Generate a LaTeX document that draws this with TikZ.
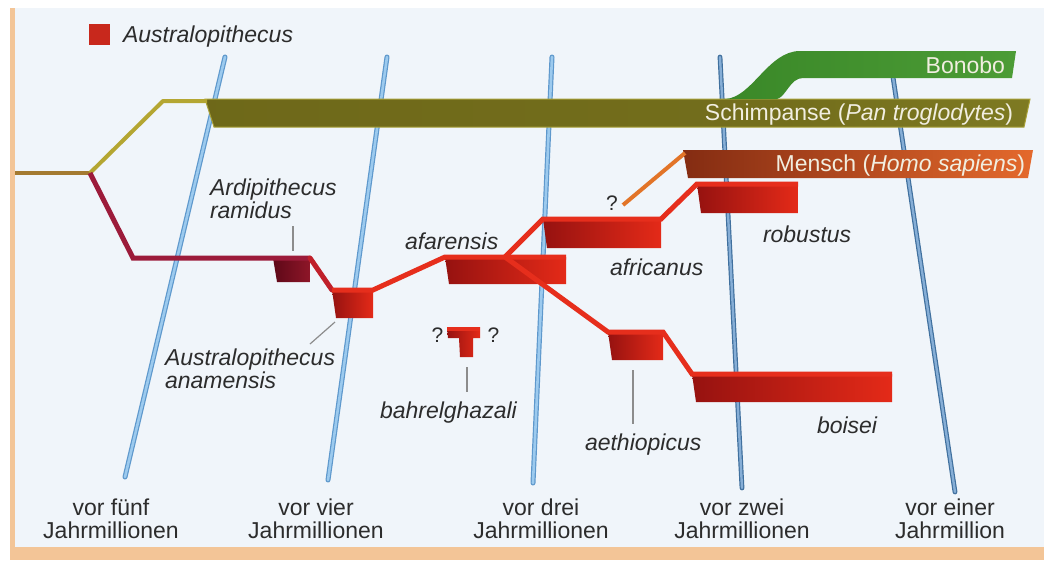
\documentclass[tikz,border=0pt]{standalone}
\usepackage{fontspec}
\setmainfont{Liberation Sans}
\definecolor{bg}{HTML}{F0F5FA}
\definecolor{border}{HTML}{F3C597}
\definecolor{txt}{HTML}{2C2C2C}
\definecolor{bartxt}{HTML}{F1EEE0}
\definecolor{leadc}{HTML}{8C8C8C}
\definecolor{blueA}{HTML}{9CCAEE}
\definecolor{blueAe}{HTML}{5E98CC}
\definecolor{blueB}{HTML}{86AED6}
\definecolor{blueBe}{HTML}{40709E}
\definecolor{rootc}{HTML}{A47A30}
\definecolor{olivec}{HTML}{B4A632}
\definecolor{schL}{HTML}{3E380A}
\definecolor{schM}{HTML}{6C6618}
\definecolor{schR}{HTML}{908E2C}
\definecolor{schE}{HTML}{A8A038}
\definecolor{bonL}{HTML}{3A8828}
\definecolor{bonR}{HTML}{4C9C36}
\definecolor{menL}{HTML}{842C12}
\definecolor{menR}{HTML}{E4692C}
\definecolor{homoc}{HTML}{E27428}
\definecolor{maroonc}{HTML}{9C1B3A}
\definecolor{ramL}{HTML}{5E0818}
\definecolor{ramR}{HTML}{8E1628}
\definecolor{redL}{HTML}{961210}
\definecolor{redR}{HTML}{E42A18}
\definecolor{redc}{HTML}{E62E1C}
\definecolor{midred}{HTML}{C0202A}
\definecolor{legred}{HTML}{C8281C}
\pgfdeclarehorizontalshading{schshade}{100bp}{color(0bp)=(schL); color(10bp)=(schM); color(60bp)=(schM!80!schR); color(100bp)=(schR)}
\newcommand\hmblock[6]{%
  \shade[left color=#6L, right color=#6R] (#2,#4) -- (#3,#4) -- (#3,#5) -- (#2+4,#5) -- cycle;
  \coordinate (#1-nw) at (#2,#4);
  \coordinate (#1-ne) at (#3,#4);}
\begin{document}
\begin{tikzpicture}[x=1pt,y=-1pt,
  every node/.style={inner sep=0pt, outer sep=0pt, text=txt, font=\fontsize{23}{24}\selectfont},
  spec/.style={font=\fontsize{23}{24}\selectfont\itshape},
  barlbl/.style={text=bartxt},
  qm/.style={font=\fontsize{21}{22}\selectfont},
  timeA/.style={draw=blueAe, line width=1.2pt, double=blueA, double distance=2.6pt, line cap=round},
  timeB/.style={draw=blueBe, line width=1.2pt, double=blueB, double distance=2.4pt, line cap=round},
  rootline/.style={draw=rootc, line width=4pt},
  oliveline/.style={draw=olivec, line width=4pt},
  homoline/.style={draw=homoc, line width=4pt},
  maroonline/.style={draw=maroonc, line width=5pt},
  redline/.style={draw=redc, line width=5pt},
  leader/.style={draw=leadc, line width=1.2pt}
]
\useasboundingbox (0,0) rectangle (1044,560);
% background
\fill[white] (0,0) rectangle (1044,560);
\fill[bg] (15,8) rectangle (1044,547);
\fill[border] (10,8) rectangle (15,560);
\fill[border] (10,547) rectangle (1044,560);

% time lines
\coordinate (t1a) at (225,57); \coordinate (t1b) at (125,477);
\coordinate (t2a) at (387,57); \coordinate (t2b) at (328,480);
\coordinate (t3a) at (552,57); \coordinate (t3b) at (533,483);
\coordinate (t4a) at (720,57); \coordinate (t4b) at (742,488);
\coordinate (t5a) at (890,57); \coordinate (t5b) at (955,492);
\draw[timeA] (t1a) -- (t1b);
\draw[timeA] (t2a) -- (t2b);
\draw[timeA] (t3a) -- (t3b);
\draw[timeB] (t4a) -- (t4b);
\draw[timeB] (t5a) -- (t5b);

% Pan branch
\coordinate (root) at (15,173);
\coordinate (split) at (90,173);
\coordinate (pbend) at (163,101);
\coordinate (sch-nw) at (207,101);
\draw[rootline] (root) -- (split);
\shade[shading=schshade, draw=schE, line width=1pt]
  (205,99) -- (1030,99) -- (1024,127) -- (214,127) -- cycle;
\draw[oliveline, line join=round] (split) -- (pbend) -- (sch-nw);
\node[barlbl, anchor=base east] (sch) at (1013,120) {Schimpanse (\textit{Pan troglodytes})};

% Bonobo
\shade[left color=bonL, right color=bonR]
  (725,99) .. controls (752,98) and (768,51) .. (800,51) -- (1016,51) -- (1012,78)
  -- (803,78) .. controls (790,78) and (786,97) .. (777,99) -- cycle;
\node[barlbl, anchor=base east] (bon) at (1005,73) {Bonobo};

% Mensch
\shade[left color=menL, right color=menR]
  (683,150) -- (1033,150) -- (1028,178) -- (688,178) -- cycle;
\coordinate (men-nw) at (685,153);
\coordinate (mq) at (623,205);
\draw[homoline] (mq) -- (men-nw);
\node[barlbl, anchor=base east] (men) at (1025,171) {Mensch (\textit{Homo sapiens})};

% hominin blocks
\coordinate (rbend) at (133,258);
\hmblock{ram}{273}{310}{258}{282}{ram}
\hmblock{ana}{332}{373}{290}{318}{red}
\hmblock{afa}{445}{566}{257}{284}{red}
\hmblock{afr}{543}{661}{219}{248}{red}
\hmblock{rob}{697}{798}{184}{213}{red}
\hmblock{aet}{608}{663}{332}{360}{red}
\hmblock{boi}{692}{892}{374}{402}{red}
\coordinate (afa-fork) at (505,257);

\draw[maroonline] (split) -- (rbend) -- (ram-nw) -- (ram-ne);
\draw[redline, draw=midred, line cap=round] (ram-ne) -- (ana-nw);
\draw[redline] (ana-nw) -- (ana-ne) -- (afa-nw) -- (afa-ne);
\draw[redline] (afa-fork) -- (afr-nw) -- (afr-ne) -- (rob-nw) -- (rob-ne);
\draw[redline] (afa-fork) -- (aet-nw) -- (aet-ne) -- (boi-nw) -- (boi-ne);

% bahrelghazali T
\shade[left color=redL, right color=redR]
  (447,327) -- (480,327) -- (480,338) -- (473,338) -- (473,357) -- (460,357) -- (459,338) -- (448,338) -- cycle;
\fill[redc] (447,327) rectangle (480,331);

% question marks
\node[qm, anchor=base] (q1) at (612,210) {?};
\node[qm, anchor=base] (q2) at (437.5,342) {?};
\node[qm, anchor=base] (q3) at (493.5,342) {?};

% legend
\node[fill=legred, minimum size=21pt, anchor=north west] (legsq) at (89,24) {};
\node[spec, anchor=base west] (leg) at (123,42) {Australopithecus};

% species labels
\node[spec, anchor=base west] (ardA) at (210,195) {Ardipithecus};
\node[spec, anchor=base west] (ardB) at (210,218) {ramidus};
\node[spec, anchor=base west] (anaA) at (165,365) {Australopithecus};
\node[spec, anchor=base west] (anaB) at (165,388) {anamensis};
\node[spec, anchor=base west] (afaL) at (405,249) {afarensis};
\node[spec, anchor=base west] (afrL) at (610,275) {africanus};
\node[spec, anchor=base west] (robL) at (763,242) {robustus};
\node[spec, anchor=base west] (bahL) at (380,418) {bahrelghazali};
\node[spec, anchor=base west] (aetL) at (585,450) {aethiopicus};
\node[spec, anchor=base west] (boiL) at (817,433) {boisei};

% leader lines
\coordinate (lr1) at (293,226); \coordinate (lr2) at (293,251);
\coordinate (la1) at (335,322); \coordinate (la2) at (310,344);
\coordinate (lb1) at (467,367); \coordinate (lb2) at (467,392);
\coordinate (le1) at (633,370); \coordinate (le2) at (633,424);
\draw[leader] (lr1) -- (lr2);
\draw[leader] (la1) -- (la2);
\draw[leader] (lb1) -- (lb2);
\draw[leader] (le1) -- (le2);

% time labels
\node[anchor=base] (y5a) at (111,515) {vor fünf};
\node[anchor=base] (y5b) at (111,538) {Jahrmillionen};
\node[anchor=base] (y4a) at (316,515) {vor vier};
\node[anchor=base] (y4b) at (316,538) {Jahrmillionen};
\node[anchor=base] (y3a) at (541,515) {vor drei};
\node[anchor=base] (y3b) at (541,538) {Jahrmillionen};
\node[anchor=base] (y2a) at (742,515) {vor zwei};
\node[anchor=base] (y2b) at (742,538) {Jahrmillionen};
\node[anchor=base] (y1a) at (950,515) {vor einer};
\node[anchor=base] (y1b) at (950,538) {Jahrmillion};
\end{tikzpicture}
\end{document}
